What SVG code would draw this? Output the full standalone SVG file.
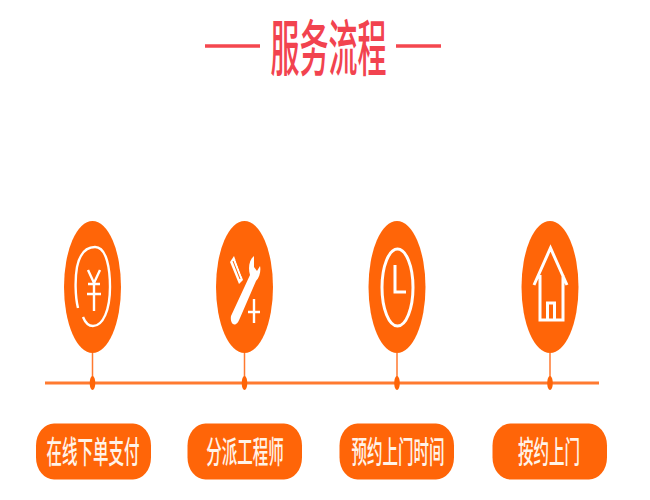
<svg xmlns="http://www.w3.org/2000/svg" width="650" height="500" viewBox="0 0 650 500">
<style>
.n{fill:#ff6508}
.t{font-family:"Noto Sans CJK SC","Noto Sans",sans-serif;text-anchor:middle;font-size:15.500px;font-weight:500;fill:#fff3e8}
.i{fill:none;stroke:#fff;stroke-width:2.400}
.c{stroke:#ff7a30;fill:none}
</style>
<rect width="650" height="500" fill="#fff"/>
<g id="title">
<path d="M205 46H260M396 46H441" stroke="#f5474f" stroke-width="3.500" fill="none"/>
<text transform="translate(328.500 71) scale(1 2.100)" style="font-family:'Noto Sans CJK SC','Noto Sans',sans-serif;font-size:29px;font-weight:500;fill:#f2434f" text-anchor="middle">服务流程</text>
</g>
<g id="connectors">
<path class="c" stroke-width="3" d="M45 383H599"/>
<path class="c" stroke-width="1.500" d="M92.500 353V383M244.500 353V383M397 353V383M550 353V383"/>
<ellipse class="n" cx="92.500" cy="383" rx="2.800" ry="7"/>
<ellipse class="n" cx="244.500" cy="383" rx="2.800" ry="7"/>
<ellipse class="n" cx="397" cy="383" rx="2.800" ry="7"/>
<ellipse class="n" cx="550" cy="383" rx="2.800" ry="7"/>
</g>
<g id="node1">
<ellipse class="n" cx="92.500" cy="287" rx="28.500" ry="66"/>
<path class="i" d="M78 308C75 296 75 278 77 267C80 253 87 247 95 247C107 247 110 270 110 287C110 310 103 326 93 326C88 326 85 322 83 317"/>
<path class="i" d="M88 270L94 283L100 270M94 283V311M88 284H100M87 294H101"/>
</g>
<g id="node2">
<ellipse class="n" cx="244.500" cy="287" rx="28.500" ry="66"/>
<path fill="#fff" d="M230 262L234 256L243 280L239 284Z"/>
<path stroke="#ff6508" stroke-width="1" fill="none" d="M233 261L240 279M236 260L242 276"/>
<path fill="#fff" d="M254 256C249 260 248 268 250 275L231 316C230 322 233 326 236 324C238 323 239 320 240 318L256 281C260 277 261 270 260 266L257 271L254 267Z"/>
<path d="M254 299V323M248 312H260" class="i"/>
</g>
<g id="node3">
<ellipse class="n" cx="397" cy="287" rx="28.500" ry="66"/>
<ellipse class="i" cx="397.500" cy="287.500" rx="15.500" ry="38.500" style="stroke-width:3"/>
<path class="i" d="M395 265V292H406" style="stroke-width:3"/>
</g>
<g id="node4">
<ellipse class="n" cx="550" cy="287" rx="28.500" ry="66"/>
<path class="i" style="stroke-width:3" d="M534 285L550.500 248L567 285M540 275V320H563V275M547.500 320V303H554.500V320"/>
</g>
<g id="step1">
<rect class="n" x="36" y="423.500" width="115" height="56" rx="18" ry="22"/>
<text class="t" transform="translate(93 463) scale(1 2)">在线下单支付</text>
</g>
<g id="step2">
<rect class="n" x="187.500" y="423.500" width="114.500" height="56" rx="18" ry="22"/>
<text class="t" transform="translate(245 463) scale(1 2)">分派工程师</text>
</g>
<g id="step3">
<rect class="n" x="339.500" y="423.500" width="114.500" height="56" rx="18" ry="22"/>
<text class="t" transform="translate(398 463) scale(1 2)">预约上门时间</text>
</g>
<g id="step4">
<rect class="n" x="492.500" y="423.500" width="114.500" height="56" rx="18" ry="22"/>
<text class="t" transform="translate(549 463) scale(1 2)">按约上门</text>
</g>
</svg>
